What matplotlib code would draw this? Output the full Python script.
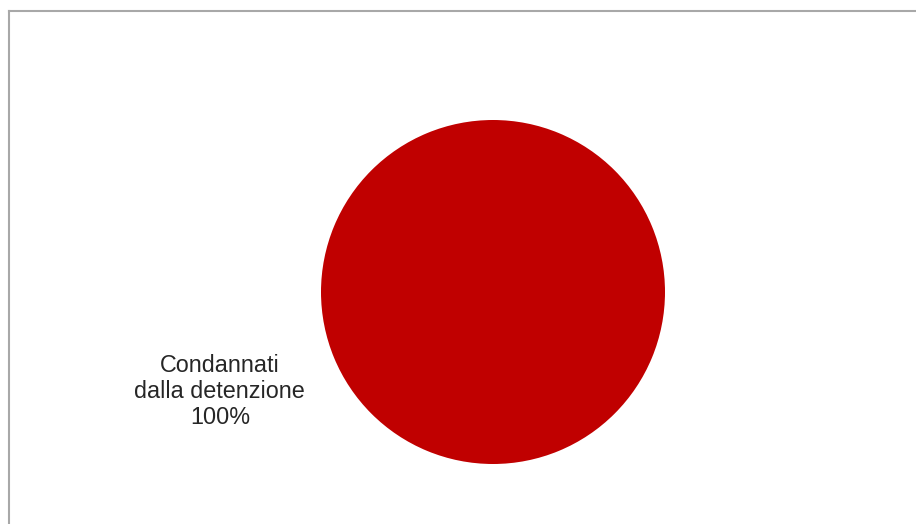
import matplotlib
matplotlib.use("Agg")
import matplotlib.pyplot as plt
from matplotlib.lines import Line2D

categories = ["Condannati\ndalla detenzione"]
values = [100]
colors = ["#C00000"]

W, H = 916, 524
fig = plt.figure(figsize=(W / 100, H / 100), dpi=100)
fig.patch.set_facecolor("white")

# chart border (top and left visible)
fig.add_artist(Line2D([8.5 / W, 1.0], [1 - 10.5 / H, 1 - 10.5 / H],
                      transform=fig.transFigure, color="#a8a8a8", lw=1.5))
fig.add_artist(Line2D([8.5 / W, 8.5 / W], [0, 1 - 10.5 / H],
                      transform=fig.transFigure, color="#a8a8a8", lw=1.5))

cx, cy, r = 493, 292, 172
ax = fig.add_axes([(cx - r) / W, (H - cy - r) / H, 2 * r / W, 2 * r / H])

total = sum(values)
labels = [f"{c}\n{v / total * 100:.0f}%" for c, v in zip(categories, values)]
ax.pie(values, colors=colors, labels=labels, startangle=20, labeldistance=1.69,
       radius=1, frame=True,
       textprops=dict(ha="center", va="center", fontsize=16.8,
                      family=["Liberation Sans", "DejaVu Sans"],
                      color="#262626", linespacing=1.15))
ax.set_xlim(-1, 1)
ax.set_ylim(-1, 1)
ax.set_aspect("equal")
ax.axis("off")

fig.savefig("out.png", dpi=100)
